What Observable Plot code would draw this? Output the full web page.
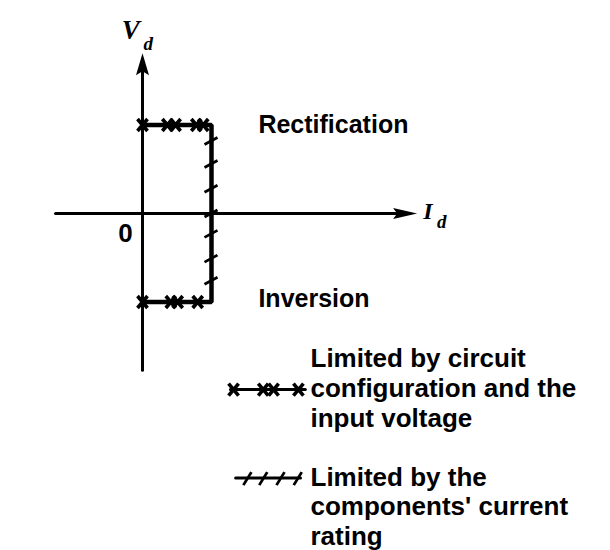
<!DOCTYPE html>
<html>
<head>
<meta charset="utf-8">
<script src="https://cdn.jsdelivr.net/npm/d3@7"></script>
<script src="https://cdn.jsdelivr.net/npm/@observablehq/plot@0.6"></script>
<style>
  html, body { margin: 0; padding: 0; background: #fff; }
  #chart svg { display: block; background: #fff; }
</style>
</head>
<body>
<div id="chart"></div>
<script>
// ---- data (units: I in rectangle widths, V in rectangle half-heights) ----
const axisI = [-1.26, 3.98];          // horizontal (I_d) axis extent
const axisV = [-1.77, 1.81];          // vertical (V_d) axis extent
const rectI = [0, 1, 1, 0];           // operating-region boundary
const rectV = [1, 1, -1, -1];
const crossTopI = [0, 0.36, 0.48, 0.78, 0.88];   // "x" marks on V = +1
const crossBotI = [0, 0.41, 0.51, 0.80];         // "x" marks on V = -1
const slashV = [0.82, 0.56, 0.28, 0.0, -0.23, -0.51, -0.76]; // hatch on I = 1

const regionLabels = ["Rectification", "Inversion"];
const regionLabelI = [1.68, 1.68];
const regionLabelV = [0.915, -1.06];

const legendTexts = [
  "Limited by circuit\nconfiguration and the\ninput voltage",
  "Limited by the\ncomponents' current\nrating"
];
const legendTextI = [2.435, 2.435];
const legendTextV = [-2.41, -3.75];     // baseline of last line
const legendLineI = [[1.275, 2.36], [1.35, 2.29]];
const legendLineV = [-1.99, -2.99];
const legendCrossI = [1.32, 1.75, 1.90, 2.26];
const legendSlashI = [1.52, 1.75, 2.0, 2.25];

// ---- custom symbols ----
const crossSym = {draw(c) { c.moveTo(-5, -6); c.lineTo(5, 6); c.moveTo(-5, 6); c.lineTo(5, -6); }};
const slashOnVertical = {draw(c) { c.moveTo(-7, 3.5); c.lineTo(6, -3.5); }};
const slashOnHorizontal = {draw(c) { c.moveTo(-4, 7); c.lineTo(4, -6); }};
const arrowUp = {draw(c) { c.moveTo(0, 0); c.lineTo(6.5, 22); c.lineTo(0, 18); c.lineTo(-6.5, 22); c.closePath(); }};
const arrowRight = {draw(c) { c.moveTo(0, 0); c.lineTo(-24, -5.5); c.lineTo(-20, 0); c.lineTo(-24, 5.5); c.closePath(); }};

const sans = "'Liberation Sans', Arial, Helvetica, sans-serif";
const serif = "'Liberation Serif', 'Times New Roman', 'DejaVu Serif', serif";

const rect = rectI.map((I, i) => ({I, V: rectV[i]}));
const crosses = [
  ...crossTopI.map(I => ({I, V: 1})),
  ...crossBotI.map(I => ({I, V: -1}))
];
const slashes = slashV.map(V => ({I: 1, V}));

const chart = Plot.plot({
  width: 610,
  height: 550,
  margin: 0,
  x: {domain: [-2.058, 6.783], range: [0, 610], axis: null},
  y: {domain: [-3.808, 2.407], range: [550, 0], axis: null},
  marks: [
    // axes
    Plot.line([{I: axisI[0], V: 0}, {I: axisI[1] - 0.1, V: 0}], {x: "I", y: "V", stroke: "black", strokeWidth: 3}),
    Plot.line([{I: 0, V: axisV[0]}, {I: 0, V: axisV[1] - 0.1}], {x: "I", y: "V", stroke: "black", strokeWidth: 3}),
    Plot.dot([{I: axisI[1], V: 0}], {x: "I", y: "V", symbol: arrowRight, fill: "black", stroke: "none"}),
    Plot.dot([{I: 0, V: axisV[1]}], {x: "I", y: "V", symbol: arrowUp, fill: "black", stroke: "none"}),
    // boundary
    Plot.line(rect, {x: "I", y: "V", stroke: "black", strokeWidth: 4.5, strokeLinejoin: "miter"}),
    Plot.dot(crosses, {x: "I", y: "V", symbol: crossSym, fill: "none", stroke: "black", strokeWidth: 3.6}),
    Plot.dot(slashes, {x: "I", y: "V", symbol: slashOnVertical, fill: "none", stroke: "black", strokeWidth: 2.8}),
    // axis labels
    Plot.text(["V"], {x: -0.3, y: 1.977, textAnchor: "start", lineAnchor: "bottom", fontFamily: serif, fontStyle: "italic", fontWeight: "bold", fontSize: 27, fill: "black"}),
    Plot.text(["d"], {x: 0.015, y: 1.85, textAnchor: "start", lineAnchor: "bottom", fontFamily: serif, fontStyle: "italic", fontWeight: "bold", fontSize: 19, fill: "black"}),
    Plot.text(["I"], {x: 4.07, y: -0.06, textAnchor: "start", lineAnchor: "bottom", fontFamily: serif, fontStyle: "italic", fontWeight: "bold", fontSize: 24, fill: "black"}),
    Plot.text(["d"], {x: 4.27, y: -0.16, textAnchor: "start", lineAnchor: "bottom", fontFamily: serif, fontStyle: "italic", fontWeight: "bold", fontSize: 19, fill: "black"}),
    Plot.text(["0"], {x: -0.246, y: -0.226, textAnchor: "middle", lineAnchor: "middle", fontFamily: sans, fontWeight: "bold", fontSize: 26, fill: "black"}),
    // region labels
    Plot.text(regionLabels, {x: (d, i) => regionLabelI[i], y: (d, i) => regionLabelV[i], textAnchor: "start", lineAnchor: "bottom", fontFamily: sans, fontWeight: "bold", fontSize: 25, fill: "black"}),
    // legend
    Plot.line([{I: legendLineI[0][0], V: legendLineV[0]}, {I: legendLineI[0][1], V: legendLineV[0]}], {x: "I", y: "V", stroke: "black", strokeWidth: 3}),
    Plot.dot(legendCrossI, {x: d => d, y: legendLineV[0], symbol: crossSym, fill: "none", stroke: "black", strokeWidth: 3.6}),
    Plot.line([{I: legendLineI[1][0], V: legendLineV[1]}, {I: legendLineI[1][1], V: legendLineV[1]}], {x: "I", y: "V", stroke: "black", strokeWidth: 3}),
    Plot.dot(legendSlashI, {x: d => d, y: legendLineV[1], symbol: slashOnHorizontal, fill: "none", stroke: "black", strokeWidth: 2.8}),
    Plot.text(legendTexts, {x: (d, i) => legendTextI[i], y: (d, i) => legendTextV[i], textAnchor: "start", lineAnchor: "bottom", lineHeight: 1.15, fontFamily: sans, fontWeight: "bold", fontSize: 26, fill: "black"})
  ]
});
document.getElementById("chart").appendChild(chart);
</script>
</body>
</html>
